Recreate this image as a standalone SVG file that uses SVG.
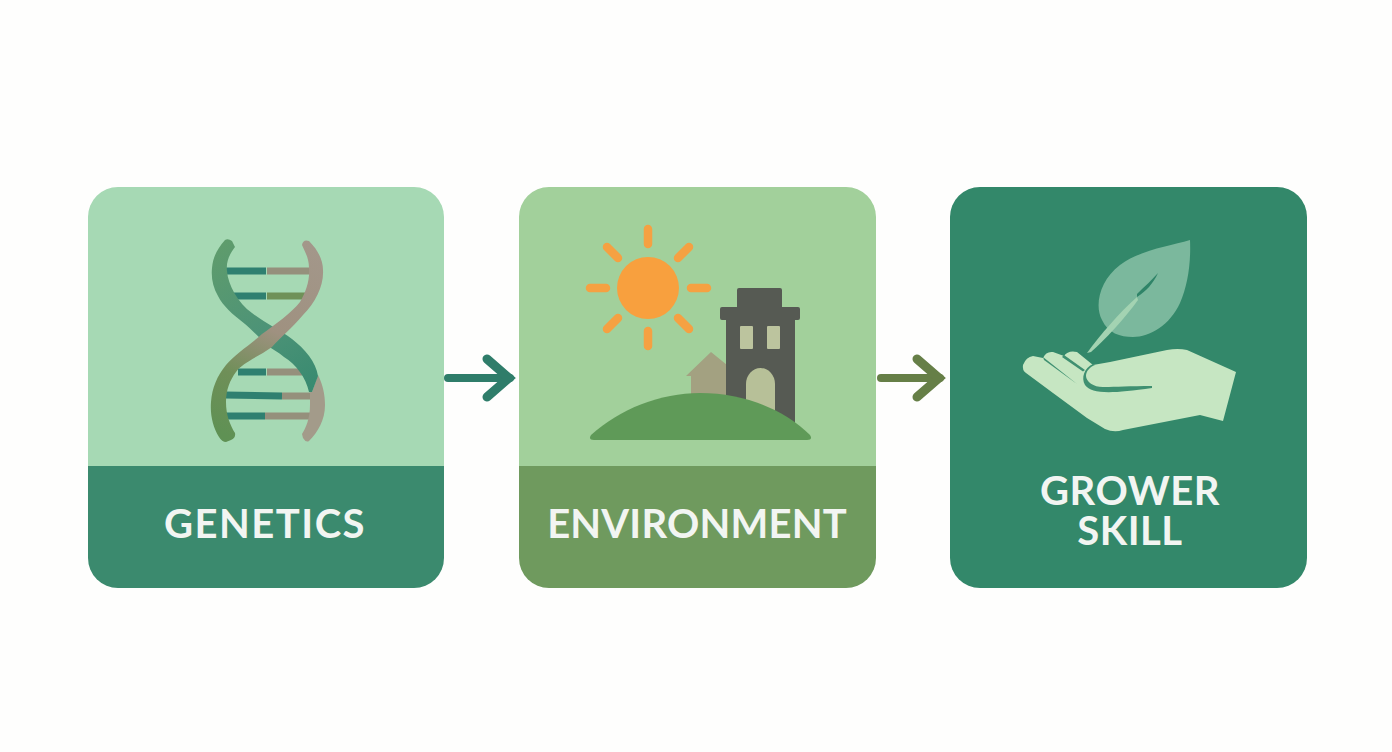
<svg xmlns="http://www.w3.org/2000/svg" width="1392" height="752" viewBox="0 0 1392 752">
<style>
.lbl{font-family:"Lato","Liberation Sans",sans-serif;font-size:40px;font-weight:700;letter-spacing:.5px;fill:#f2f5f2;text-anchor:middle}
.rung{stroke-width:7;fill:none;stroke-linecap:butt}
.ray{stroke:#f5a142;stroke-width:8.500;stroke-linecap:round}
.conn{fill:none;stroke-width:8;stroke-linecap:round;stroke-linejoin:round}
</style>
<defs>
<linearGradient id="sA" gradientUnits="userSpaceOnUse" x1="225" y1="240" x2="315" y2="390"><stop offset="0" stop-color="#5f9c6c"/><stop offset=".55" stop-color="#4d9377"/><stop offset="1" stop-color="#388a70"/></linearGradient>
<linearGradient id="sB" gradientUnits="userSpaceOnUse" x1="310" y1="245" x2="225" y2="435"><stop offset="0" stop-color="#a3978a"/><stop offset=".45" stop-color="#9f9180"/><stop offset=".72" stop-color="#6f8f58"/><stop offset="1" stop-color="#5f9154"/></linearGradient>
<marker id="hA" markerUnits="userSpaceOnUse" markerWidth="40" markerHeight="60" refX="30" refY="25" orient="auto" viewBox="0 0 40 50"><path d="M7,6 L29,25 L7,44" fill="none" stroke="#2f7d6a" stroke-width="9" stroke-linecap="round" stroke-linejoin="miter"/></marker>
<marker id="hB" markerUnits="userSpaceOnUse" markerWidth="40" markerHeight="60" refX="30" refY="25" orient="auto" viewBox="0 0 40 50"><path d="M7,6 L29,25 L7,44" fill="none" stroke="#667f47" stroke-width="9" stroke-linecap="round" stroke-linejoin="miter"/></marker>
</defs>
<rect width="1392" height="752" fill="#fefefd"/>
<g id="connectors">
<line class="conn" x1="448" y1="378" x2="510" y2="378" stroke="#2f7d6a" marker-end="url(#hA)"/>
<line class="conn" x1="881" y1="378" x2="940" y2="378" stroke="#667f47" marker-end="url(#hB)"/>
</g>
<g id="genetics">
<path d="M88,466V217a30,30 0 0 1 30,-30H414a30,30 0 0 1 30,30V466Z" fill="#a6d9b4"/>
<path d="M88,466H444V558a30,30 0 0 1 -30,30H118a30,30 0 0 1 -30,-30Z" fill="#3b8a6e"/>
<path class="rung" stroke="#2f8070" d="M226,271H266M230,296H266M238,372H266M225,395L282,396M226,416H265"/>
<path class="rung" stroke="#95907c" d="M267,271H310M267,372H302M282,396H311M265,416H311"/>
<path class="rung" stroke="#6f9158" d="M267,296H306"/>
<path fill="#a39b8a" d="M318,375C323,385 325,395 325,405C325,420 318,432 309,441Q306,443 303,438L302,434C306,428 310,418 310,405L310,392L312,392Z"/>
<path fill="url(#sA)" d="M225,240Q228,238 232,241L235,247C229,255 226,262 227,271C228,285 238,303 252,313C265,323 280,330 292,339C305,349 316,362 318,376L312,392L309,392C306,378 296,364 284,357C278,352 272,349 268,346C262,340 252,330 245,324C232,314 223,306 218,296C213,287 211,278 212,268C213,256 218,248 225,240Z"/>
<path fill="url(#sB)" d="M302,245Q303,239 309,241C318,250 323,260 323,270C324,285 316,302 303,315C292,328 280,338 272,347C258,357 242,363 236,372C230,380 226,390 226,402C226,415 230,425 235,433Q236,438 231,440L226,442Q222,442 219,437C213,427 210,415 211,402C212,388 217,376 226,365C235,354 250,345 262,334C275,325 292,312 300,302C306,292 310,280 309,268C309,258 305,252 302,245Z"/>
<text class="lbl" x="265" y="538" style="letter-spacing:1.500px">GENETICS</text>
</g>
<g id="environment">
<path d="M519,466V217a30,30 0 0 1 30,-30H846a30,30 0 0 1 30,30V466Z" fill="#a2d09b"/>
<path d="M519,466H876V558a30,30 0 0 1 -30,30H549a30,30 0 0 1 -30,-30Z" fill="#6f9a5e"/>
<circle cx="648" cy="288" r="31" fill="#f8a03e"/>
<path class="ray" d="M648,229V244M648,331V346M590,288H606M691,288H707M607,247L618,258M689,247L678,258M618,318L607,329M678,318L689,329"/>
<path d="M711,352L686,376H691V396H727V365Z" fill="#a3a181"/>
<path d="M726,320H722Q720,320 720,318V309Q720,307 722,307H737V290Q737,288 739,288H780Q782,288 782,290V307H798Q800,307 800,309V318Q800,320 798,320H795V425H726Z" fill="#565a53"/>
<rect x="740" y="326" width="13" height="23" rx="1" fill="#bcc49e"/>
<rect x="767" y="326" width="13" height="23" rx="1" fill="#bcc49e"/>
<path d="M746,410V384A14.500,16 0 0 1 775,384V415Z" fill="#b7c098"/>
<path d="M591,435C620,409 660,393 700,393C745,393 785,410 810,435Q813,440 807,440H594Q588,440 591,435Z" fill="#5f9a58"/>
<text class="lbl" x="697" y="538" style="letter-spacing:.2px">ENVIRONMENT</text>
</g>
<g id="grower-skill">
<rect x="950" y="187" width="357" height="401" rx="30" fill="#33886a"/>
<path d="M1190,240C1170,246 1140,250 1120,265C1100,280 1094,305 1102,320C1108,333 1120,337 1133,337C1150,337 1170,325 1180,303C1188,285 1191,262 1190,240Z" fill="#7bb89d"/>
<path d="M1137,294C1145,286 1152,280 1158,273C1153,284 1146,291 1137,297Z" fill="#2f8468"/>
<path d="M1087,353C1100,335 1120,312 1137,297L1138,300C1125,318 1105,340 1091,352Z" fill="#a3d3b2"/>
<path d="M1023,365Q1026,357 1033,356L1043,358Q1046,351 1053,352L1064,356Q1068,350 1077,352L1093,365L1110,362L1167,350Q1178,348 1187,350L1236,372L1223,421L1200,415L1123,430Q1114,433 1105,429L1087,418L1053,393L1026,373Q1022,370 1023,365Z" fill="#c6e6c2"/>
<path d="M1043,357L1077,384L1044,360Z M1064,355L1085,370L1083,371.500L1062,357Z" fill="#3f9071"/>
<path d="M1093,364C1084,368 1081,378 1085,385C1092,394 1110,394 1152,388V386C1130,386 1115,387 1105,387C1095,388 1086,382 1086,376C1086,371 1090,367 1095,365Z" fill="#3f9071"/>
<text class="lbl" y="505"><tspan x="1130">GROWER</tspan><tspan x="1130" dy="40">SKILL</tspan></text>
</g>
</svg>
